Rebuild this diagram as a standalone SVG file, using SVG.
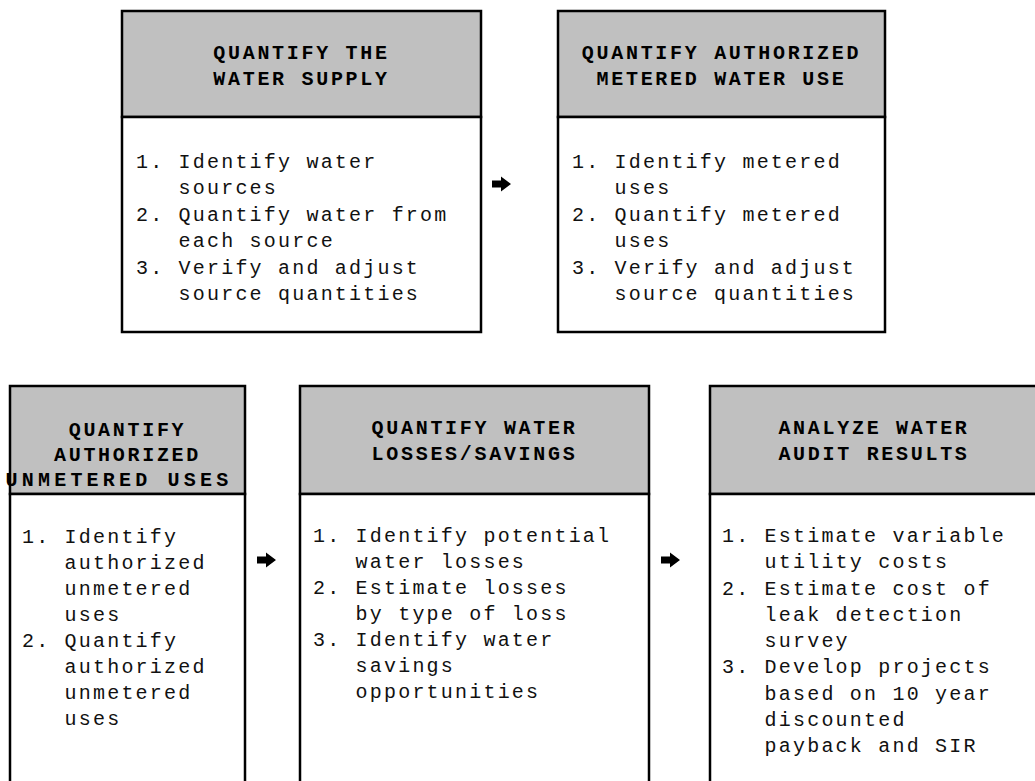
<svg xmlns="http://www.w3.org/2000/svg" width="1035" height="781" viewBox="0 0 1035 781">
<style>
.box{fill:#ffffff;stroke:#000;stroke-width:2.5}
.hdr{fill:#c0c0c0;stroke:#000;stroke-width:2.5}
.h{font-family:"Liberation Mono","DejaVu Sans Mono",monospace;font-weight:bold;font-size:20px;letter-spacing:2.7px;fill:#000;text-anchor:middle}
.b{font-family:"Liberation Mono","DejaVu Sans Mono",monospace;font-size:20px;letter-spacing:2.2px;fill:#111}
.arr{fill:#000}
</style>
<defs>
<path id="arrow" d="M0,-3.5 L9,-3.5 L9,-7.5 L19,0 L9,7.5 L9,3.5 L0,3.5 Z"/>
</defs>
<rect width="1035" height="781" fill="#fff"/>

<g id="n1">
<rect class="hdr" x="122" y="11" width="359" height="106"/>
<rect class="box" x="122" y="117" width="359" height="215"/>
<text class="h" x="301.5" y="59">QUANTIFY THE</text>
<text class="h" x="301.5" y="85">WATER SUPPLY</text>
<text class="b" xml:space="preserve"><tspan x="136" y="168">1. Identify water</tspan><tspan x="136" y="194.4">   sources</tspan><tspan x="136" y="220.8">2. Quantify water from</tspan><tspan x="136" y="247.2">   each source</tspan><tspan x="136" y="273.6">3. Verify and adjust</tspan><tspan x="136" y="300">   source quantities</tspan></text>
</g>

<g id="n2">
<rect class="hdr" x="558" y="11" width="327" height="106"/>
<rect class="box" x="558" y="117" width="327" height="215"/>
<text class="h" x="721.5" y="59">QUANTIFY AUTHORIZED</text>
<text class="h" x="721.5" y="85">METERED WATER USE</text>
<text class="b" xml:space="preserve"><tspan x="572" y="168">1. Identify metered</tspan><tspan x="572" y="194.4">   uses</tspan><tspan x="572" y="220.8">2. Quantify metered</tspan><tspan x="572" y="247.2">   uses</tspan><tspan x="572" y="273.6">3. Verify and adjust</tspan><tspan x="572" y="300">   source quantities</tspan></text>
</g>

<g id="n3">
<rect class="hdr" x="10" y="386" width="235" height="108"/>
<rect class="box" x="10" y="494" width="235" height="300"/>
<text class="h" x="127.5" y="436">QUANTIFY</text>
<text class="h" x="127.5" y="461">AUTHORIZED</text>
<text class="h" x="119" y="486" style="letter-spacing:4.2px">UNMETERED USES</text>
<text class="b" xml:space="preserve"><tspan x="22" y="543">1. Identify</tspan><tspan x="22" y="569">   authorized</tspan><tspan x="22" y="595">   unmetered</tspan><tspan x="22" y="621">   uses</tspan><tspan x="22" y="647">2. Quantify</tspan><tspan x="22" y="673">   authorized</tspan><tspan x="22" y="699">   unmetered</tspan><tspan x="22" y="725">   uses</tspan></text>
</g>

<g id="n4">
<rect class="hdr" x="300" y="386" width="349" height="108"/>
<rect class="box" x="300" y="494" width="349" height="300"/>
<text class="h" x="474.5" y="434">QUANTIFY WATER</text>
<text class="h" x="474.5" y="460">LOSSES/SAVINGS</text>
<text class="b" xml:space="preserve"><tspan x="313" y="542">1. Identify potential</tspan><tspan x="313" y="568">   water losses</tspan><tspan x="313" y="594">2. Estimate losses</tspan><tspan x="313" y="620">   by type of loss</tspan><tspan x="313" y="646">3. Identify water</tspan><tspan x="313" y="672">   savings</tspan><tspan x="313" y="698">   opportunities</tspan></text>
</g>

<g id="n5">
<rect class="hdr" x="710" y="386" width="328" height="108"/>
<rect class="box" x="710" y="494" width="328" height="300"/>
<text class="h" x="874" y="434">ANALYZE WATER</text>
<text class="h" x="874" y="460">AUDIT RESULTS</text>
<text class="b" xml:space="preserve"><tspan x="722" y="542">1. Estimate variable</tspan><tspan x="722" y="568.25">   utility costs</tspan><tspan x="722" y="594.5">2. Estimate cost of</tspan><tspan x="722" y="620.75">   leak detection</tspan><tspan x="722" y="647">   survey</tspan><tspan x="722" y="673.25">3. Develop projects</tspan><tspan x="722" y="699.5">   based on 10 year</tspan><tspan x="722" y="725.75">   discounted</tspan><tspan x="722" y="752">   payback and SIR</tspan></text>
</g>

<g id="connectors">
<use href="#arrow" class="arr" x="492" y="184"/>
<use href="#arrow" class="arr" x="257" y="560"/>
<use href="#arrow" class="arr" x="661" y="560"/>
</g>
</svg>
